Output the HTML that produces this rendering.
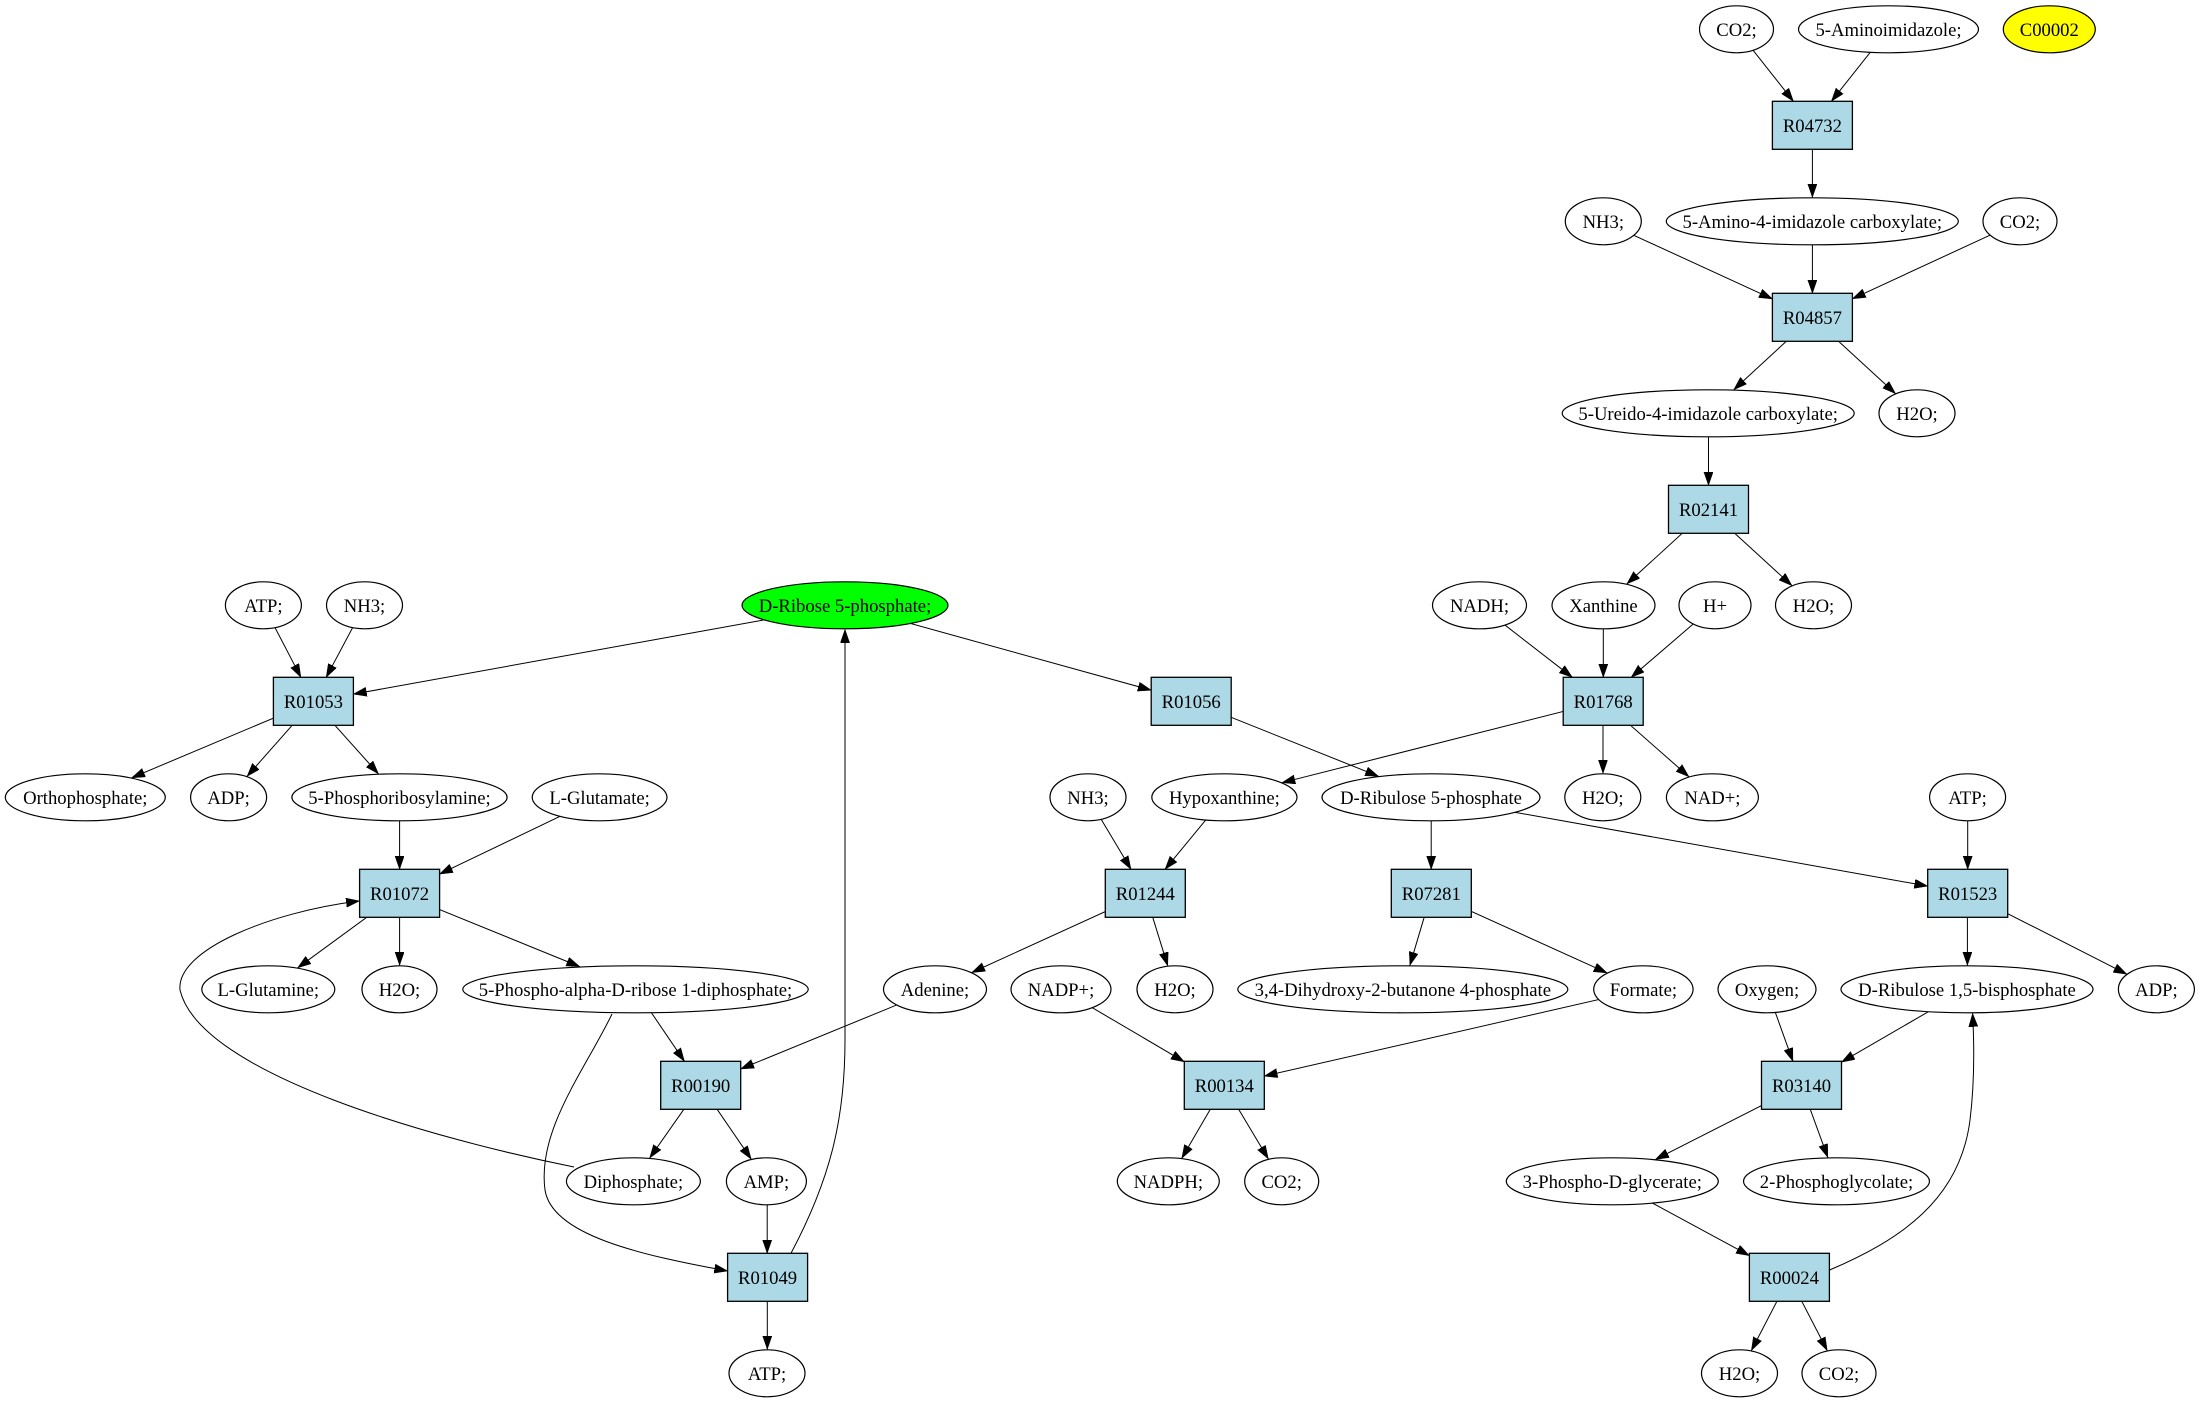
<!DOCTYPE html>
<html><head><meta charset="utf-8"><style>
html,body{margin:0;padding:0;background:#fff;}
svg{display:block;}
.e{fill:#fff;stroke:#000;stroke-width:1.2;}
.b{fill:#add8e6;stroke:#000;stroke-width:1.3;}
.ed line,.ed path{stroke:#000;stroke-width:1;fill:none;marker-end:url(#ah);}
text{font-family:"Liberation Serif","Times New Roman",serif;font-size:18.67px;text-anchor:middle;fill:#000;}
</style></head><body>
<svg width="2200" height="1403" viewBox="0 0 2200 1403" xmlns="http://www.w3.org/2000/svg">
<defs>
<marker id="ah" markerUnits="userSpaceOnUse" markerWidth="14" markerHeight="10" refX="13.3" refY="4.6" orient="auto">
<path d="M0,0 L13.3,4.6 L0,9.2 Z" fill="#000" stroke="#000" stroke-width="0.5"/>
</marker>
</defs>
<rect width="2200" height="1403" fill="#fff"/>
<g class="ed">
<line x1="1736.5" y1="29.3" x2="1793.4" y2="101.3"/>
<line x1="1888.5" y1="29.3" x2="1831.4" y2="101.3"/>
<line x1="1812.4" y1="125.3" x2="1812.4" y2="197.3"/>
<line x1="1603.3" y1="221.3" x2="1772.4" y2="298.9"/>
<line x1="1812.4" y1="221.3" x2="1812.4" y2="293.3"/>
<line x1="2020" y1="221.3" x2="1852.4" y2="298.8"/>
<line x1="1812.4" y1="317.3" x2="1733.8" y2="389.7"/>
<line x1="1812.4" y1="317.3" x2="1895.5" y2="393.6"/>
<line x1="1708.5" y1="413.3" x2="1708.5" y2="485.3"/>
<line x1="1708.5" y1="509.3" x2="1626.9" y2="583.9"/>
<line x1="1708.5" y1="509.3" x2="1791.9" y2="585.6"/>
<line x1="1479.5" y1="605.3" x2="1572.3" y2="677.3"/>
<line x1="1603.3" y1="605.3" x2="1603.3" y2="677.3"/>
<line x1="1715" y1="605.3" x2="1631.2" y2="677.3"/>
<line x1="1603.2" y1="701.3" x2="1282" y2="782.7"/>
<line x1="1603" y1="701.3" x2="1603" y2="773.3"/>
<line x1="1603.2" y1="701.3" x2="1688.9" y2="776.7"/>
<line x1="263.4" y1="605.3" x2="300.9" y2="677.3"/>
<line x1="364.5" y1="605.3" x2="326.2" y2="677.3"/>
<line x1="845" y1="605.3" x2="353.4" y2="694.1"/>
<line x1="845" y1="605.3" x2="1151.2" y2="690.2"/>
<line x1="313.4" y1="701.3" x2="131.7" y2="777.8"/>
<line x1="313.4" y1="701.3" x2="247.1" y2="776.3"/>
<line x1="313.4" y1="701.3" x2="378.4" y2="773.8"/>
<line x1="399.6" y1="797.3" x2="399.6" y2="869.3"/>
<line x1="599.6" y1="797.3" x2="439.6" y2="874.1"/>
<line x1="399.6" y1="893.3" x2="297.7" y2="967.8"/>
<line x1="399.6" y1="893.3" x2="399.6" y2="965.3"/>
<line x1="399.6" y1="893.3" x2="579.7" y2="966.6"/>
<line x1="1191.2" y1="701.3" x2="1378.5" y2="776.3"/>
<line x1="1088" y1="797.3" x2="1131" y2="869.3"/>
<line x1="1224.4" y1="797.3" x2="1165.1" y2="869.3"/>
<line x1="1431.2" y1="797.3" x2="1431.2" y2="869.3"/>
<line x1="1431" y1="797.3" x2="1927.7" y2="886.1"/>
<line x1="1967.7" y1="797.3" x2="1967.7" y2="869.3"/>
<line x1="1145.3" y1="893.3" x2="971.8" y2="972.5"/>
<line x1="1145.3" y1="893.3" x2="1167.7" y2="965.7"/>
<line x1="1431.3" y1="893.3" x2="1409.9" y2="965.3"/>
<line x1="1431.3" y1="893.3" x2="1607.1" y2="972.9"/>
<line x1="1967.4" y1="893.3" x2="1967.4" y2="965.3"/>
<line x1="1967.7" y1="893.3" x2="2126.8" y2="974.2"/>
<line x1="635.5" y1="989.3" x2="684.4" y2="1061.3"/>
<line x1="935" y1="989.3" x2="740.7" y2="1068.9"/>
<line x1="1061" y1="989.3" x2="1184.3" y2="1061.8"/>
<line x1="1643.4" y1="989.3" x2="1264.3" y2="1076.1"/>
<line x1="1767" y1="989.3" x2="1792.9" y2="1061.3"/>
<line x1="1967" y1="989.3" x2="1841.5" y2="1062.1"/>
<line x1="700.7" y1="1085.3" x2="649.7" y2="1158"/>
<line x1="700.7" y1="1085.3" x2="751.2" y2="1159.1"/>
<line x1="1224.3" y1="1085.3" x2="1181.8" y2="1158.2"/>
<line x1="1224.3" y1="1085.3" x2="1268.3" y2="1158.9"/>
<line x1="1801.5" y1="1085.3" x2="1655.5" y2="1159.4"/>
<line x1="1801.5" y1="1085.3" x2="1827.8" y2="1157.4"/>
<line x1="767.2" y1="1181.3" x2="767.2" y2="1253.3"/>
<line x1="767.3" y1="1277.3" x2="767.3" y2="1349.3"/>
<line x1="1612.3" y1="1181.3" x2="1749.4" y2="1255.6"/>
<line x1="1789.4" y1="1277.3" x2="1751.4" y2="1350.5"/>
<line x1="1789.4" y1="1277.3" x2="1827.2" y2="1350.5"/>
<path d="M612,1014 C585,1070 537,1130 545,1190 C552,1235 640,1255 727.6,1271"/>
<path d="M574,1167 C440,1140 200,1075 180,990 C176,950 270,912 359.4,901"/>
<path d="M790.6,1254 C830,1180 845,1120 845,1040 L845,629.5"/>
<path d="M1829.6,1270 C1900,1240 1960,1200 1970,1120 C1975,1080 1974,1040 1972.6,1013.5"/>
</g>
<g>
<!-- rank 0 -->
<ellipse class="e" cx="1736.5" cy="29.3" rx="37" ry="23.5"/><text x="1736.5" y="35.8">CO2;</text>
<ellipse class="e" cx="1888.5" cy="29.3" rx="90" ry="23.5"/><text x="1888.5" y="35.8">5-Aminoimidazole;</text>
<ellipse class="e" cx="2049.3" cy="29.3" rx="46" ry="23.5" style="fill:#ffff00"/><text x="2049.3" y="35.8">C00002</text>
<!-- rank 1 -->
<rect class="b" x="1772.4" y="101.3" width="80" height="48"/><text x="1812.4" y="131.8">R04732</text>
<!-- rank 2 -->
<ellipse class="e" cx="1603.3" cy="221.3" rx="38" ry="23.5"/><text x="1603.3" y="227.8">NH3;</text>
<ellipse class="e" cx="1812.3" cy="221.3" rx="146" ry="23.5"/><text x="1812.3" y="227.8">5-Amino-4-imidazole carboxylate;</text>
<ellipse class="e" cx="2020" cy="221.3" rx="37" ry="23.5"/><text x="2020" y="227.8">CO2;</text>
<!-- rank 3 -->
<rect class="b" x="1772.4" y="293.3" width="80" height="48"/><text x="1812.4" y="323.8">R04857</text>
<!-- rank 4 -->
<ellipse class="e" cx="1708.2" cy="413.3" rx="146" ry="23.5"/><text x="1708.2" y="419.8">5-Ureido-4-imidazole carboxylate;</text>
<ellipse class="e" cx="1917" cy="413.3" rx="38" ry="23.5"/><text x="1917" y="419.8">H2O;</text>
<!-- rank 5 -->
<rect class="b" x="1668.5" y="485.3" width="80" height="48"/><text x="1708.5" y="515.8">R02141</text>
<!-- rank 6 -->
<ellipse class="e" cx="263.4" cy="605.3" rx="38" ry="23.5"/><text x="263.4" y="611.8">ATP;</text>
<ellipse class="e" cx="364.5" cy="605.3" rx="38" ry="23.5"/><text x="364.5" y="611.8">NH3;</text>
<ellipse class="e" cx="845" cy="605.3" rx="103" ry="23.5" style="fill:#00ff00"/><text x="845" y="611.8">D-Ribose 5-phosphate;</text>
<ellipse class="e" cx="1479.5" cy="605.3" rx="47" ry="23.5"/><text x="1479.5" y="611.8">NADH;</text>
<ellipse class="e" cx="1603.5" cy="605.3" rx="51.5" ry="23.5"/><text x="1603.5" y="611.8">Xanthine</text>
<ellipse class="e" cx="1715" cy="605.3" rx="36" ry="23.5"/><text x="1715" y="611.8">H+</text>
<ellipse class="e" cx="1813.5" cy="605.3" rx="38" ry="23.5"/><text x="1813.5" y="611.8">H2O;</text>
<!-- rank 7 -->
<rect class="b" x="273.4" y="677.3" width="80" height="48"/><text x="313.4" y="707.8">R01053</text>
<rect class="b" x="1151.2" y="677.3" width="80" height="48"/><text x="1191.2" y="707.8">R01056</text>
<rect class="b" x="1563.2" y="677.3" width="80" height="48"/><text x="1603.2" y="707.8">R01768</text>
<!-- rank 8 -->
<ellipse class="e" cx="85.3" cy="797.3" rx="80" ry="23.5"/><text x="85.3" y="803.8">Orthophosphate;</text>
<ellipse class="e" cx="228.6" cy="797.3" rx="38" ry="23.5"/><text x="228.6" y="803.8">ADP;</text>
<ellipse class="e" cx="399.5" cy="797.3" rx="107.6" ry="23.5"/><text x="399.5" y="803.8">5-Phosphoribosylamine;</text>
<ellipse class="e" cx="599.6" cy="797.3" rx="67.4" ry="23.5"/><text x="599.6" y="803.8">L-Glutamate;</text>
<ellipse class="e" cx="1088" cy="797.3" rx="38" ry="23.5"/><text x="1088" y="803.8">NH3;</text>
<ellipse class="e" cx="1224.4" cy="797.3" rx="72.6" ry="23.5"/><text x="1224.4" y="803.8">Hypoxanthine;</text>
<ellipse class="e" cx="1431" cy="797.3" rx="109" ry="23.5"/><text x="1431" y="803.8">D-Ribulose 5-phosphate</text>
<ellipse class="e" cx="1602.8" cy="797.3" rx="38" ry="23.5"/><text x="1602.8" y="803.8">H2O;</text>
<ellipse class="e" cx="1712.4" cy="797.3" rx="46" ry="23.5"/><text x="1712.4" y="803.8">NAD+;</text>
<ellipse class="e" cx="1967.6" cy="797.3" rx="38" ry="23.5"/><text x="1967.6" y="803.8">ATP;</text>
<!-- rank 9 -->
<rect class="b" x="359.6" y="869.3" width="80" height="48"/><text x="399.6" y="899.8">R01072</text>
<rect class="b" x="1105.3" y="869.3" width="80" height="48"/><text x="1145.3" y="899.8">R01244</text>
<rect class="b" x="1391.3" y="869.3" width="80" height="48"/><text x="1431.3" y="899.8">R07281</text>
<rect class="b" x="1927.7" y="869.3" width="80" height="48"/><text x="1967.7" y="899.8">R01523</text>
<!-- rank 10 -->
<ellipse class="e" cx="268.3" cy="989.3" rx="66.5" ry="23.5"/><text x="268.3" y="995.8">L-Glutamine;</text>
<ellipse class="e" cx="399.5" cy="989.3" rx="37.5" ry="23.5"/><text x="399.5" y="995.8">H2O;</text>
<ellipse class="e" cx="635.5" cy="989.3" rx="172.7" ry="23.5"/><text x="635.5" y="995.8">5-Phospho-alpha-D-ribose 1-diphosphate;</text>
<ellipse class="e" cx="935" cy="989.3" rx="51.5" ry="23.5"/><text x="935" y="995.8">Adenine;</text>
<ellipse class="e" cx="1061" cy="989.3" rx="50" ry="23.5"/><text x="1061" y="995.8">NADP+;</text>
<ellipse class="e" cx="1175" cy="989.3" rx="38" ry="23.5"/><text x="1175" y="995.8">H2O;</text>
<ellipse class="e" cx="1402.8" cy="989.3" rx="165" ry="23.5"/><text x="1402.8" y="995.8">3,4-Dihydroxy-2-butanone 4-phosphate</text>
<ellipse class="e" cx="1643.4" cy="989.3" rx="49.7" ry="23.5"/><text x="1643.4" y="995.8">Formate;</text>
<ellipse class="e" cx="1767" cy="989.3" rx="49" ry="23.5"/><text x="1767" y="995.8">Oxygen;</text>
<ellipse class="e" cx="1967" cy="989.3" rx="126" ry="23.5"/><text x="1967" y="995.8">D-Ribulose 1,5-bisphosphate</text>
<ellipse class="e" cx="2156.4" cy="989.3" rx="38" ry="23.5"/><text x="2156.4" y="995.8">ADP;</text>
<!-- rank 11 -->
<rect class="b" x="660.7" y="1061.3" width="80" height="48"/><text x="700.7" y="1091.8">R00190</text>
<rect class="b" x="1184.3" y="1061.3" width="80" height="48"/><text x="1224.3" y="1091.8">R00134</text>
<rect class="b" x="1761.5" y="1061.3" width="80" height="48"/><text x="1801.5" y="1091.8">R03140</text>
<!-- rank 12 -->
<ellipse class="e" cx="633.4" cy="1181.3" rx="67" ry="23.5"/><text x="633.4" y="1187.8">Diphosphate;</text>
<ellipse class="e" cx="766.4" cy="1181.3" rx="40" ry="23.5"/><text x="766.4" y="1187.8">AMP;</text>
<ellipse class="e" cx="1168.3" cy="1181.3" rx="51" ry="23.5"/><text x="1168.3" y="1187.8">NADPH;</text>
<ellipse class="e" cx="1281.7" cy="1181.3" rx="37" ry="23.5"/><text x="1281.7" y="1187.8">CO2;</text>
<ellipse class="e" cx="1612.3" cy="1181.3" rx="106" ry="23.5"/><text x="1612.3" y="1187.8">3-Phospho-D-glycerate;</text>
<ellipse class="e" cx="1836.5" cy="1181.3" rx="93" ry="23.5"/><text x="1836.5" y="1187.8">2-Phosphoglycolate;</text>
<!-- rank 13 -->
<rect class="b" x="727.6" y="1253.3" width="80" height="48"/><text x="767.6" y="1283.8">R01049</text>
<rect class="b" x="1749.4" y="1253.3" width="80" height="48"/><text x="1789.4" y="1283.8">R00024</text>
<!-- rank 14 -->
<ellipse class="e" cx="767" cy="1373.3" rx="38" ry="23.5"/><text x="767" y="1379.8">ATP;</text>
<ellipse class="e" cx="1739.5" cy="1373.3" rx="38" ry="23.5"/><text x="1739.5" y="1379.8">H2O;</text>
<ellipse class="e" cx="1839" cy="1373.3" rx="37" ry="23.5"/><text x="1839" y="1379.8">CO2;</text>
</g>
</svg>
</body></html>
